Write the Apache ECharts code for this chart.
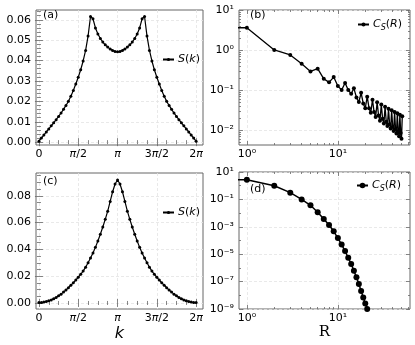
<!DOCTYPE html>
<html>
<head>
<meta charset="utf-8">
<script src="https://cdn.jsdelivr.net/npm/echarts@6.0.0/dist/echarts.min.js"></script>
<style>
  html, body { margin: 0; padding: 0; background: #fff; }
  #chart { width: 415px; height: 345px; }
</style>
</head>
<body>
<div id="chart"></div>
<script>
// x axis of (a) and (c) is the grid index n, k = 2*pi*n/64
const kTicks = [0, 16, 32, 48, 64]
const kTickLabels = ['0', '{p|π}/2', '{p|π}', '3{p|π}/2', '2{p|π}']
const kMinor = [4, 8, 12, 20, 24, 28, 36, 40, 44, 52, 56, 60]

// (a) S(k)
const sA = [0.0005, 0.0020, 0.0035, 0.0050, 0.0065, 0.0080, 0.0095, 0.0110, 0.0126, 0.0143, 0.0161,
  0.0180, 0.0200, 0.0225, 0.0253, 0.0285, 0.0318, 0.0355, 0.0398, 0.0450, 0.0520, 0.0616,
  0.0605, 0.0560, 0.0530, 0.0508, 0.0491, 0.0477, 0.0466, 0.0457, 0.0450, 0.0445, 0.0443,
  0.0445, 0.0450, 0.0457, 0.0466, 0.0477, 0.0491, 0.0508, 0.0530, 0.0560, 0.0605, 0.0616,
  0.0520, 0.0450, 0.0398, 0.0355, 0.0318, 0.0285, 0.0253, 0.0225, 0.0200, 0.0180, 0.0161,
  0.0143, 0.0126, 0.0110, 0.0095, 0.0080, 0.0065, 0.0050, 0.0035, 0.0020, 0.0005]
const aYTicks = [0, 0.01, 0.02, 0.03, 0.04, 0.05, 0.06]
const aYMinor = [0.002, 0.004, 0.006, 0.008, 0.012, 0.014, 0.016, 0.018, 0.022, 0.024, 0.026, 0.028,
  0.032, 0.034, 0.036, 0.038, 0.042, 0.044, 0.046, 0.048, 0.052, 0.054, 0.056, 0.058, 0.062, 0.064]

// (c) S(k)
const sC = [0.0003, 0.0004, 0.0007, 0.0011, 0.0016, 0.0023, 0.0031, 0.0041, 0.0053, 0.0066, 0.0081,
  0.0097, 0.0114, 0.0132, 0.0151, 0.0171, 0.0192, 0.0214, 0.0238, 0.0267, 0.0300, 0.0335,
  0.0373, 0.0415, 0.0462, 0.0513, 0.0567, 0.0624, 0.0685, 0.0758, 0.0830, 0.0888, 0.0918,
  0.0888, 0.0830, 0.0758, 0.0685, 0.0624, 0.0567, 0.0513, 0.0462, 0.0415, 0.0373, 0.0335,
  0.0300, 0.0267, 0.0238, 0.0214, 0.0192, 0.0171, 0.0151, 0.0132, 0.0114, 0.0097, 0.0081,
  0.0066, 0.0053, 0.0041, 0.0031, 0.0023, 0.0016, 0.0011, 0.0007, 0.0004, 0.0003]
const cYTicks = [0, 0.02, 0.04, 0.06, 0.08]
const cYMinor = [0.005, 0.01, 0.015, 0.025, 0.03, 0.035, 0.045, 0.05, 0.055, 0.065, 0.07, 0.075,
  0.085, 0.09, 0.095]

// (b) C_S(R)
const rB = [1, 2, 3, 4, 5, 6, 7, 8, 9, 10, 11, 12, 13, 14, 15, 16, 17, 18, 19, 20, 21, 22, 23, 24, 25,
  26, 27, 28, 29, 30, 31, 32, 33, 34, 35, 36, 37, 38, 39, 40, 41, 42, 43, 44, 45, 46, 47, 48, 49, 50, 51]
const cB = [3.6, 1.0, 0.75, 0.45, 0.29, 0.34, 0.19, 0.155, 0.21, 0.125, 0.10, 0.15, 0.10, 0.080,
  0.11, 0.065, 0.050, 0.085, 0.046, 0.035, 0.068, 0.035, 0.027, 0.057, 0.028, 0.021, 0.049,
  0.023, 0.017, 0.043, 0.019, 0.0145, 0.038, 0.016, 0.0125, 0.034, 0.0138, 0.0108, 0.031,
  0.012, 0.0094, 0.028, 0.0105, 0.0081, 0.026, 0.0093, 0.0070, 0.024, 0.0084, 0.0060, 0.022]
const bYTicks = [0.01, 0.1, 1, 10]
const bYMinor = [0.005, 0.006, 0.007, 0.008, 0.009, 0.02, 0.03, 0.04, 0.05, 0.06, 0.07, 0.08, 0.09,
  0.2, 0.3, 0.4, 0.5, 0.6, 0.7, 0.8, 0.9, 2, 3, 4, 5, 6, 7, 8, 9]

// (d) C_S(R)
const rD = [1, 2, 3, 4, 5, 6, 7, 8, 9, 10, 11, 12, 13, 14, 15, 16, 17, 18, 19, 20, 21]
const cD = [2.75, 1.0, 0.31, 0.10, 0.037, 0.0115, 0.0037, 0.00135, 4.7e-4, 1.5e-4, 5.0e-5, 1.7e-5,
  5.5e-6, 1.9e-6, 6.3e-7, 2.1e-7, 6.6e-8, 2.1e-8, 6.9e-9, 2.5e-9, 1.0e-9]
const dYTicks = [1e-9, 1e-7, 1e-5, 1e-3, 1e-1, 10]
const dYMinor = [1e-8, 1e-6, 1e-4, 1e-2, 1]

const rTicks = [1, 10]
const rMinor = [2, 3, 4, 5, 6, 7, 8, 9, 20, 30, 40, 50, 60]

// R = 0 sits at -infinity on a log axis; the plotted line runs flat off the left edge
const R_ZERO = 0.01

const FONT = 'DejaVu Sans'
const FRAME = '#666'
const SUP = { '-': '⁻', '0': '⁰', '1': '¹', '2': '²', '3': '³', '4': '⁴', '5': '⁵', '6': '⁶', '7': '⁷', '8': '⁸', '9': '⁹' }
const logLabel = v => '10' + String(Math.round(Math.log10(v))).split('').map(c => SUP[c]).join('')

const grids = [
  { left: 36, top: 10, width: 167, height: 135 },
  { left: 239, top: 10, width: 171, height: 135 },
  { left: 36, top: 173, width: 167, height: 136 },
  { left: 239, top: 172, width: 171, height: 137 }
].map(g => ({ ...g, show: true, borderColor: FRAME, borderWidth: 1, backgroundColor: 'transparent', outerBoundsMode: 'none' }))

const xAxes = []
const yAxes = []

const tick = (vals, len) => ({ show: true, inside: true, length: len, customValues: vals, lineStyle: { color: FRAME, width: 0.8 } })

// one main axis with labels and grid lines, plus minor ticks and mirrored ticks on the opposite side
function addAxes(list, dim, gi, type, min, max, majors, minors, label, extra) {
  const sides = dim === 'x' ? ['bottom', 'top'] : ['left', 'right']
  const base = {
    type, gridIndex: gi, min, max,
    axisLine: { show: false }, splitLine: { show: false }, axisLabel: { show: false }, axisTick: { show: false }
  }
  const idx = list.length
  list.push({
    ...base, position: sides[0],
    axisTick: tick(majors, 4),
    axisLabel: {
      show: true, customValues: majors, color: '#000', fontSize: 11, fontFamily: FONT,
      margin: dim === 'x' ? 4 : 5, ...label
    },
    splitLine: { show: true, lineStyle: { color: '#e3e3e3', width: 0.8, type: [3, 2] } },
    ...extra
  })
  list.push({ ...base, position: sides[0], axisTick: tick(minors, 2) })
  list.push({ ...base, position: sides[1], axisTick: tick(majors, 4) })
  list.push({ ...base, position: sides[1], axisTick: tick(minors, 2) })
  return idx
}

const kLabel = {
  formatter: v => kTickLabels[kTicks.indexOf(v)],
  rich: { p: { fontStyle: 'italic', fontSize: 11, fontFamily: FONT, color: '#000' } }
}

const xa = addAxes(xAxes, 'x', 0, 'value', -1.2, 66.8, kTicks, kMinor, kLabel)
const ya = addAxes(yAxes, 'y', 0, 'value', -0.0014, 0.0648, aYTicks, aYMinor, { formatter: v => v.toFixed(2) })
const xb = addAxes(xAxes, 'x', 1, 'log', 0.82, 62, rTicks, rMinor, { formatter: logLabel })
const yb = addAxes(yAxes, 'y', 1, 'log', 0.0042, 10, bYTicks, bYMinor, { formatter: logLabel })
const xc = addAxes(xAxes, 'x', 2, 'value', -1.2, 66.8, kTicks, kMinor, kLabel, {
  name: 'k', nameLocation: 'middle', nameGap: 17,
  nameTextStyle: { fontStyle: 'italic', fontSize: 16, fontFamily: FONT, color: '#000' }
})
const yc = addAxes(yAxes, 'y', 2, 'value', -0.0045, 0.097, cYTicks, cYMinor, { formatter: v => v.toFixed(2) })
const xd = addAxes(xAxes, 'x', 3, 'log', 0.82, 62, rTicks, rMinor, { formatter: logLabel }, {
  name: 'R', nameLocation: 'middle', nameGap: 15,
  nameTextStyle: { fontSize: 15, fontFamily: 'DejaVu Serif', color: '#000' }
})
const yd = addAxes(yAxes, 'y', 3, 'log', 1e-9, 10, dYTicks, dYMinor, { formatter: logLabel })

const lineSeries = (name, xi, yi, data, size, width) => ({
  name, type: 'line', xAxisIndex: xi, yAxisIndex: yi, data,
  symbol: 'circle', symbolSize: size, showSymbol: true, clip: true,
  lineStyle: { color: '#000', width }, itemStyle: { color: '#000' },
  emphasis: { disabled: true }, animation: false
})

const dataA = sA.map((v, i) => [i, v])
const dataC = sC.map((v, i) => [i, v])
const dataB = [{ value: [R_ZERO, cB[0]], symbol: 'none' }].concat(rB.map((r, i) => [r, cB[i]]))
const dataD = [{ value: [R_ZERO, cD[0]], symbol: 'none' }].concat(rD.map((r, i) => [r, cD[i]]))

const legendRich = {
  i: { fontStyle: 'italic', fontSize: 11, fontFamily: FONT, color: '#000', lineHeight: 14 },
  n: { fontSize: 11, fontFamily: FONT, color: '#000', lineHeight: 14 },
  s: { fontStyle: 'italic', fontSize: 8, fontFamily: FONT, color: '#000', lineHeight: 6, verticalAlign: 'bottom' }
}
const legendText = name => name === 'S(k)' ? '{i|S}{n|(}{i|k}{n|)}' : '{i|C}{s|S}{n|(}{i|R}{n|)}'
const legend = (name, left, top, h) => ({
  data: [name], left, top, padding: 0, itemWidth: 11, itemHeight: h, itemGap: 0,
  selectedMode: false, formatter: legendText, textStyle: { rich: legendRich, padding: [0, 0, 0, -1] }
})

const panelLabel = (text, left, top) => ({
  text, left, top, padding: 0,
  textStyle: { fontSize: 11, fontWeight: 'normal', fontFamily: FONT, color: '#000' }
})

const chart = echarts.init(document.getElementById('chart'), null, { renderer: 'canvas' })
chart.setOption({
  backgroundColor: '#fff',
  animation: false,
  grid: grids,
  xAxis: xAxes,
  yAxis: yAxes,
  title: [
    panelLabel('(a)', 43, 10),
    panelLabel('(b)', 250, 10),
    panelLabel('(c)', 43, 176),
    panelLabel('(d)', 250, 184)
  ],
  legend: [
    legend('S(k)', 162, 54, 4),
    legend('Cb', 357, 19, 5),
    legend('S(k)', 162, 207, 4),
    legend('Cd', 356, 180, 7)
  ],
  series: [
    lineSeries('S(k)', xa, ya, dataA, 3, 1.2),
    lineSeries('Cb', xb, yb, dataB, 4, 1.3),
    lineSeries('S(k)', xc, yc, dataC, 3, 1.2),
    lineSeries('Cd', xd, yd, dataD, 6, 1.5)
  ]
})
</script>
</body>
</html>
